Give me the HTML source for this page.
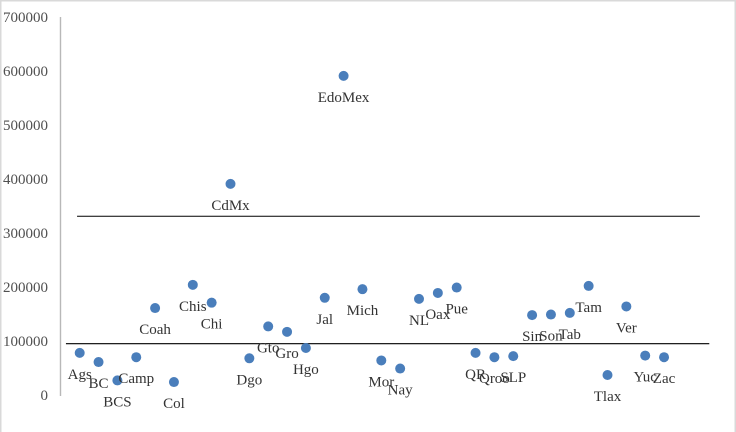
<!DOCTYPE html>
<html><head><meta charset="utf-8">
<style>
html,body{margin:0;padding:0;background:#fff}
svg{display:block;font-family:"Liberation Serif",serif}
</style></head>
<body>
<svg id="chart" width="736" height="432" viewBox="0 0 736 432" xmlns="http://www.w3.org/2000/svg">
<rect x="0" y="0" width="736" height="432" fill="#fff"/>
<path d="M0.5 432V0.5H735.5V432" fill="none" stroke="#d9d9d9" stroke-width="2"/>
<line x1="60.5" x2="60.5" y1="17" y2="396" stroke="#b8b8b8" stroke-width="1.4"/>
</svg>
<script>
const categories = ["Ags","BC","BCS","Camp","Coah","Col","Chis","Chi","CdMx","Dgo","Gto","Gro","Hgo","Jal","EdoMex","Mich","Mor","Nay","NL","Oax","Pue","QR","Qroo","SLP","Sin","Son","Tab","Tam","Tlax","Ver","Yuc","Zac"];
const seriesValues = [78000,61000,27000,70000,161000,24000,204000,171000,391000,68000,127000,117000,87000,180000,591000,196000,64000,49000,178000,189000,199000,78000,70000,72000,148000,149000,152000,202000,37000,164000,73000,70000];
const tickLabels = [0,100000,200000,300000,400000,500000,600000,700000];
const upperLineValue = [331000];
const upperLineSpan = [-0.14,32.9];
const lowerLineValue = [95000];
const lowerLineSpan = [-0.73,33.4];

const svg = document.getElementById('chart');
const NS = 'http://www.w3.org/2000/svg';
function xScale(i){ return 79.7 + i * 18.85; }
function yScale(v){ return 395 - v * 378 / 700000; }
function make(tag, attrs){
  const el = document.createElementNS(NS, tag);
  for (const k in attrs) el.setAttribute(k, attrs[k]);
  return el;
}

tickLabels.forEach(function(t){
  const el = make('text', {x: 48, y: yScale(t) + 5, 'text-anchor': 'end', 'font-size': 15, fill: '#505050'});
  
  
  el.textContent = t;
  svg.appendChild(el);
});

const upperLine = make('line', {x1: xScale(upperLineSpan[0]), x2: xScale(upperLineSpan[1]), y1: yScale(upperLineValue[0]), y2: yScale(upperLineValue[0]), stroke: '#000', 'stroke-width': 1.1});


svg.appendChild(upperLine);

const lowerLine = make('line', {x1: xScale(lowerLineSpan[0]), x2: xScale(lowerLineSpan[1]), y1: yScale(lowerLineValue[0]), y2: yScale(lowerLineValue[0]), stroke: '#000', 'stroke-width': 1.1});


svg.appendChild(lowerLine);

categories.forEach(function(c, i){
  const p = make('circle', {cx: xScale(i), cy: yScale(seriesValues[i]), r: 5, fill: '#4a7ebb'});
  
  
  svg.appendChild(p);
});

categories.forEach(function(c, i){
  const t = make('text', {x: xScale(i), y: yScale(seriesValues[i]) + 26, 'text-anchor': 'middle', 'font-size': 15, fill: '#333333'});
  
  
  t.textContent = c;
  svg.appendChild(t);
});
</script>
</body></html>
